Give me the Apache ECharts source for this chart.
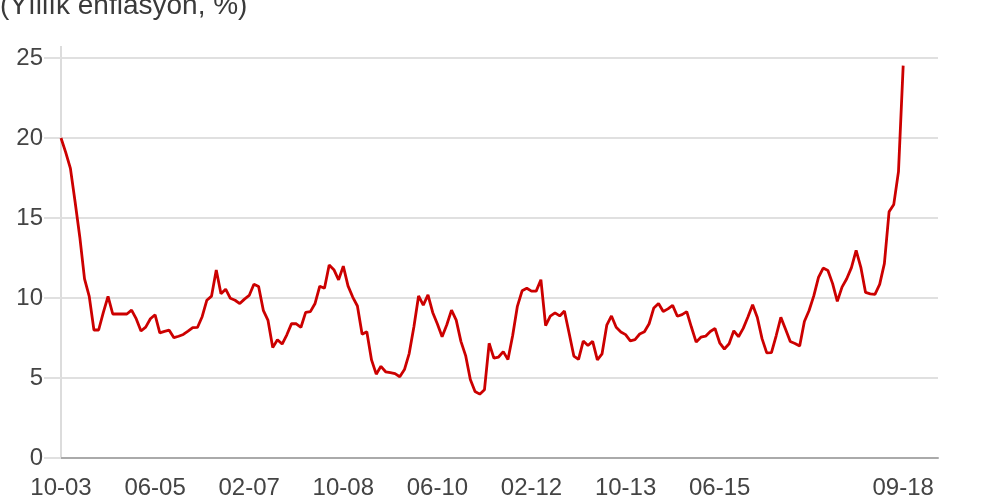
<!DOCTYPE html>
<html>
<head>
<meta charset="utf-8">
<script src="https://cdn.jsdelivr.net/npm/echarts@6/dist/echarts.min.js"></script>
<style>
html,body{margin:0;padding:0;background:#fff;}
#chart{width:990px;height:500px;}
</style>
</head>
<body>
<div id="chart"></div>
<script>
// Yearly inflation values (%), monthly, from 10-2003 to 09-2018
const y2003 = [20.0, 19.1, 18.1];
const y2004 = [16.0, 13.8, 11.2, 10.1, 8.0, 8.0, 9.1, 10.1, 9.0, 9.0, 9.0, 9.0];
const y2005 = [9.24, 8.69, 7.94, 8.18, 8.70, 8.95, 7.82, 7.91, 7.99, 7.52, 7.61, 7.72];
const y2006 = [7.93, 8.15, 8.16, 8.83, 9.86, 10.12, 11.75, 10.26, 10.55, 9.98, 9.86, 9.65];
const y2007 = [9.93, 10.16, 10.86, 10.72, 9.23, 8.60, 6.90, 7.39, 7.12, 7.70, 8.40, 8.39];
const y2008 = [8.17, 9.10, 9.15, 9.66, 10.74, 10.61, 12.06, 11.77, 11.13, 11.99, 10.76, 10.06];
const y2009 = [9.50, 7.73, 7.89, 6.13, 5.24, 5.73, 5.39, 5.33, 5.27, 5.08, 5.53, 6.53];
const y2010 = [8.19, 10.13, 9.56, 10.19, 9.10, 8.37, 7.58, 8.33, 9.24, 8.62, 7.29, 6.40];
const y2011 = [4.90, 4.16, 3.99, 4.26, 7.17, 6.24, 6.31, 6.65, 6.15, 7.66, 9.48, 10.45];
const y2012 = [10.61, 10.43, 10.43, 11.14, 8.28, 8.87, 9.07, 8.88, 9.19, 7.80, 6.37, 6.16];
const y2013 = [7.31, 7.03, 7.29, 6.13, 6.51, 8.30, 8.88, 8.17, 7.88, 7.71, 7.32, 7.40];
const y2014 = [7.75, 7.89, 8.39, 9.38, 9.66, 9.16, 9.32, 9.54, 8.86, 8.96, 9.15, 8.17];
const y2015 = [7.24, 7.55, 7.61, 7.91, 8.09, 7.20, 6.81, 7.14, 7.95, 7.58, 8.10, 8.81];
const y2016 = [9.58, 8.78, 7.46, 6.57, 6.58, 7.64, 8.79, 8.05, 7.28, 7.16, 7.00, 8.53];
const y2017 = [9.22, 10.13, 11.29, 11.87, 11.72, 10.90, 9.79, 10.68, 11.20, 11.90, 12.98, 11.92];
const y2018 = [10.35, 10.26, 10.23, 10.85, 12.15, 15.39, 15.85, 17.90, 24.52];

const values = [].concat(y2003, y2004, y2005, y2006, y2007, y2008, y2009, y2010,
  y2011, y2012, y2013, y2014, y2015, y2016, y2017, y2018);

// Category labels: MM-YY, starting at October 2003
const startYear = 2003, startMonth = 10;
const pad = n => (n < 10 ? '0' : '') + n;
const months = values.map((v, i) => {
  const k = startMonth - 1 + i;
  return pad(k % 12 + 1) + '-' + pad((startYear + Math.floor(k / 12)) % 100);
});

// Tick labels shown on the x axis
const xTickLabels = ['10-03', '06-05', '02-07', '10-08', '06-10', '02-12', '10-13', '06-15', '09-18'];
const yTicks = [0, 5, 10, 15, 20, 25];
const titleText = '(Yıllık enflasyon, %)';

const FONT = "'Liberation Sans', Arial, sans-serif";
const chart = echarts.init(document.getElementById('chart'), null, {renderer: 'canvas'});
chart.setOption({
  animation: false,
  backgroundColor: '#fff',
  title: {
    text: titleText,
    left: 0,
    top: -8,
    padding: 0,
    textStyle: {fontFamily: FONT, fontSize: 28, fontWeight: 'normal', color: '#3a3a3a'}
  },
  grid: {left: 61, right: 52, top: 58, bottom: 38, containLabel: false},
  xAxis: {
    type: 'value',
    min: 0,
    max: 186.4,
    axisLine: {show: true, onZero: false, lineStyle: {color: '#aaaaaa', width: 2}},
    axisTick: {show: false},
    splitLine: {show: false},
    axisLabel: {
      customValues: xTickLabels.map(l => months.indexOf(l)),
      formatter: v => months[Math.round(v)] || '',
      fontFamily: FONT, fontSize: 24, color: '#444', margin: 18
    }
  },
  yAxis: {
    type: 'value',
    min: yTicks[0],
    max: yTicks[yTicks.length - 1],
    interval: 5,
    axisLine: {show: true, lineStyle: {color: '#dcdcdc', width: 2}},
    axisTick: {show: true, length: 17, lineStyle: {color: '#e0e0e0', width: 2}},
    splitLine: {show: true, lineStyle: {color: '#e0e0e0', width: 2}},
    axisLabel: {fontFamily: FONT, fontSize: 24, color: '#444', margin: 18}
  },
  graphic: [{
    type: 'line',
    shape: {x1: 61, y1: 46, x2: 61, y2: 58},
    style: {stroke: '#dcdcdc', lineWidth: 2}
  }],
  series: [{
    type: 'line',
    data: values.map((v, i) => [i, v]),
    showSymbol: false,
    symbol: 'none',
    lineStyle: {color: '#cc0000', width: 2.8},
    itemStyle: {color: '#cc0000'}
  }]
});
</script>
</body>
</html>
